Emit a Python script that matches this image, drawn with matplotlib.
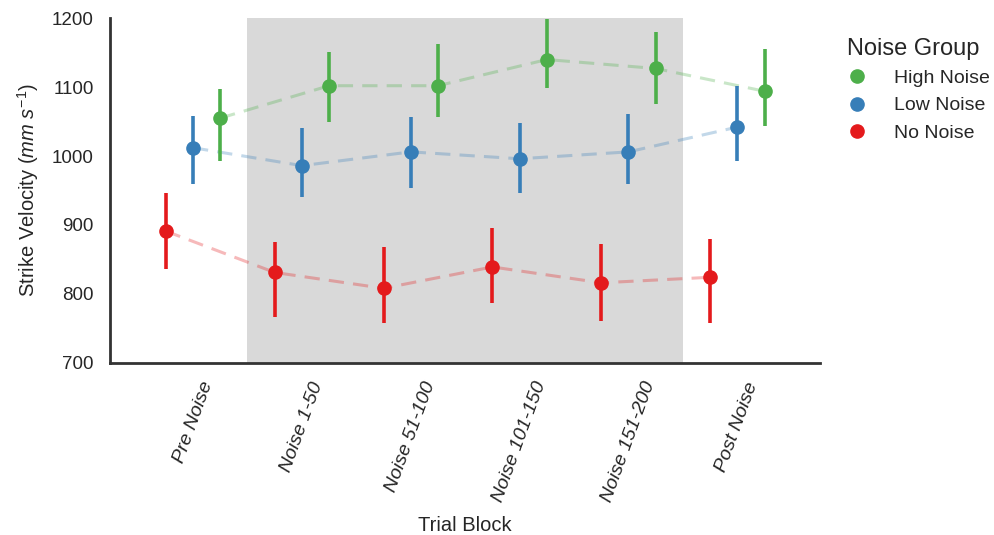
import numpy as np
import matplotlib
matplotlib.use('Agg')
import matplotlib.pyplot as plt

plt.rcParams['font.family'] = ['Liberation Sans', 'DejaVu Sans']
plt.rcParams['mathtext.fontset'] = 'custom'
plt.rcParams['mathtext.it'] = 'Liberation Sans:italic'
plt.rcParams['mathtext.rm'] = 'Liberation Sans'
plt.rcParams['text.color'] = '.15'
plt.rcParams['axes.labelcolor'] = '.15'
plt.rcParams['xtick.color'] = '.15'
plt.rcParams['ytick.color'] = '.15'

# trial blocks along the x axis
blocks = ['Pre Noise', 'Noise 1-50', 'Noise 51-100', 'Noise 101-150',
          'Noise 151-200', 'Post Noise']

# mean strike velocity and CI bounds for each group
no_mean = [891, 831, 808, 839, 816, 824]
no_lo = [836, 766, 758, 786, 761, 758]
no_hi = [946, 875, 868, 896, 873, 879]

low_mean = [1012, 986, 1006, 996, 1006, 1042]
low_lo = [959, 941, 954, 947, 959, 993]
low_hi = [1058, 1041, 1056, 1048, 1061, 1102]

high_mean = [1055, 1102, 1102, 1140, 1127, 1094]
high_lo = [993, 1049, 1057, 1098, 1075, 1044]
high_hi = [1097, 1151, 1162, 1199, 1180, 1156]

groups = ['No Noise', 'Low Noise', 'High Noise']
colours = ['#e41a1c', '#377eb8', '#4daf4a']
offsets = [-0.25, 0.0, 0.25]

fig, ax = plt.subplots(figsize=(9.94, 5.35), dpi=100)
fig.subplots_adjust(left=0.111, right=0.825, top=0.966, bottom=0.322)

# shaded noise blocks
ax.axvspan(0.5, 4.5, color='#d9d9d9', zorder=0, lw=0)

x = np.arange(len(blocks))
data = [(no_mean, no_lo, no_hi), (low_mean, low_lo, low_hi), (high_mean, high_lo, high_hi)]
handles = {}
for name, col, off, (m, lo, hi) in zip(groups, colours, offsets, data):
    xs = x + off
    ax.plot(xs, m, ls=(0, (5, 3)), lw=2.2, color=col, alpha=0.3, zorder=2)
    ax.vlines(xs, lo, hi, color=col, lw=2.6, zorder=3)
    h, = ax.plot(xs, m, 'o', ms=9.5, color=col, zorder=4, ls='none')
    handles[name] = h

ax.set_xlim(-0.76, 5.76)
ax.set_ylim(700, 1200)
ax.set_yticks(np.arange(700, 1201, 100))
ax.set_xticks(x)
ax.set_xticklabels(blocks, rotation=70, fontstyle='italic', fontsize=14)
ax.tick_params(axis='both', length=0, labelsize=13.5)
ax.tick_params(axis='x', pad=12, labelsize=14)
ax.tick_params(axis='y', pad=12)

for side in ['top', 'right']:
    ax.spines[side].set_visible(False)
for side in ['left', 'bottom']:
    ax.spines[side].set_linewidth(2)
    ax.spines[side].set_color('.2')

ax.set_xlabel('Trial Block', fontsize=14.5, labelpad=8)
ax.set_ylabel('Strike Velocity ($mm\\ s^{-1}$)', fontsize=14.5, labelpad=8)

order = ['High Noise', 'Low Noise', 'No Noise']
leg = ax.legend([handles[k] for k in order], order, title='Noise Group',
                loc='upper left', bbox_to_anchor=(1.0, 0.994), frameon=False,
                fontsize=14, title_fontsize=17, handletextpad=0.9,
                labelspacing=0.5, borderaxespad=0.5)

fig.savefig('out.png', dpi=100)
